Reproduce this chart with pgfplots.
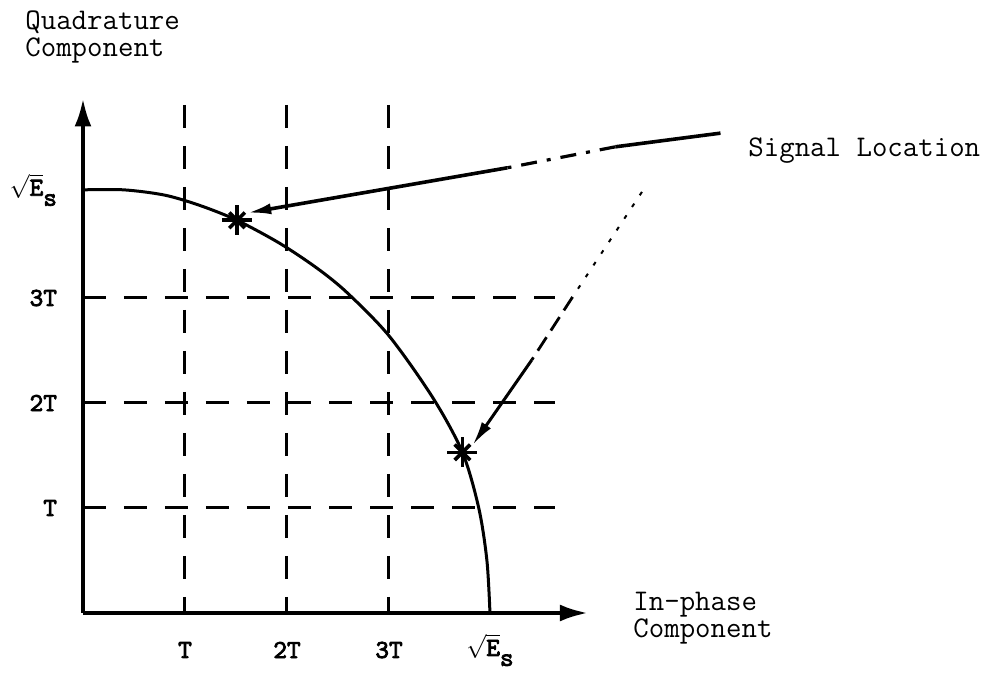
\documentclass[border=0pt]{standalone}
\usepackage{pgfplots}
\pgfplotsset{compat=1.18}
\usepackage{fontspec}
\setmainfont{Liberation Serif}
\newfontfamily\ttbold{lmmono10-regular.otf}[FakeBold=3]
\usetikzlibrary{arrows.meta}

\newcommand{\sqrtEs}{$\sqrt{\mbox{\ttbold E}}$\raisebox{-5pt}{\ttbold s}}

\begin{document}
\begin{tikzpicture}
\useasboundingbox (-41.5pt,-35.5pt) rectangle (454pt,306.5pt);
\begin{axis}[
  anchor=origin, at={(0pt,0pt)},
  x=51pt, y=52.5pt,
  xmin=0, xmax=4.95, ymin=0, ymax=4.90,
  axis lines=left,
  clip=false,
  axis line style={line width=2pt, -{Latex[length=14pt,width=8.5pt]}},
  major tick length=0pt,
  xtick={1,2,3,3.99},
  ytick={1,2,3,4.03},
  xticklabels={T,2T,3T,\sqrtEs},
  yticklabels={T,2T,3T,\sqrtEs},
  ticklabel style={font=\ttbold\fontsize{13}{13}\selectfont},
  xticklabel style={anchor=center, yshift=-18.5pt},
  yticklabel style={anchor=east, xshift=-9.5pt},
]
% dashed grid
\addplot[line width=1.5pt, dash pattern=on 11.5pt off 9pt] coordinates {(1,4.84) (1,0)};
\addplot[line width=1.5pt, dash pattern=on 11.5pt off 9pt] coordinates {(2,4.84) (2,0)};
\addplot[line width=1.5pt, dash pattern=on 11.5pt off 9pt] coordinates {(3,4.84) (3,0)};
\addplot[line width=1.5pt, dash pattern=on 11.5pt off 9pt] coordinates {(0,1) (4.63,1)};
\addplot[line width=1.5pt, dash pattern=on 11.5pt off 9pt] coordinates {(0,2) (4.63,2)};
\addplot[line width=1.5pt, dash pattern=on 11.5pt off 9pt] coordinates {(0,3) (4.63,3)};
% signal circle
\addplot[line width=1.5pt, smooth] coordinates {
  (0,4.03) (0.4,4.03) (0.8,3.98) (1.15,3.88) (1.51,3.74)
  (1.93,3.52) (2.30,3.28) (2.59,3.05) (3.00,2.64) (3.43,2.05) (3.72,1.53)
  (3.88,1.00) (3.96,0.50) (3.99,0)
};
% signal locations
\addplot[only marks, mark=+, mark size=7.5pt, mark options={line width=1.8pt}] coordinates {(1.51,3.74) (3.72,1.53)};
\addplot[only marks, mark=x, mark size=5.5pt, mark options={line width=1.8pt}] coordinates {(1.51,3.74) (3.72,1.53)};
% annotation arrows
\draw[line width=1.8pt] (axis cs:6.25,4.57) -- (axis cs:5.22,4.44);
\draw[line width=1.6pt, dash pattern=on 8pt off 5pt on 2pt off 5pt] (axis cs:5.22,4.44) -- (axis cs:4.16,4.24);
\draw[line width=1.8pt, -{Latex[length=12pt,width=5.5pt]}] (axis cs:4.16,4.24) -- (axis cs:1.61,3.81);
\draw[line width=1.0pt, dash pattern=on 2pt off 5pt] (axis cs:5.48,4.01) -- (axis cs:4.80,3.01);
\draw[line width=1.4pt, dash pattern=on 8pt off 4pt] (axis cs:4.80,3.01) -- (axis cs:4.40,2.41);
\draw[line width=1.5pt, -{Latex[length=12pt,width=5.5pt]}] (axis cs:4.40,2.41) -- (axis cs:3.82,1.60);
\end{axis}
\begin{scope}[every node/.style={inner sep=0pt, font=\ttfamily\fontsize{15}{14}\selectfont}]
\node[anchor=base west] at (-29pt,291.5pt) {Quadrature};
\node[anchor=base west] at (-29pt,278pt) {Component};
\node[anchor=base west] at (332.5pt,228pt) {Signal Location};
\node[anchor=base west] at (275pt,1pt) {In-phase};
\node[anchor=base west] at (275pt,-12.5pt) {Component};
\end{scope}
\end{tikzpicture}
\end{document}
